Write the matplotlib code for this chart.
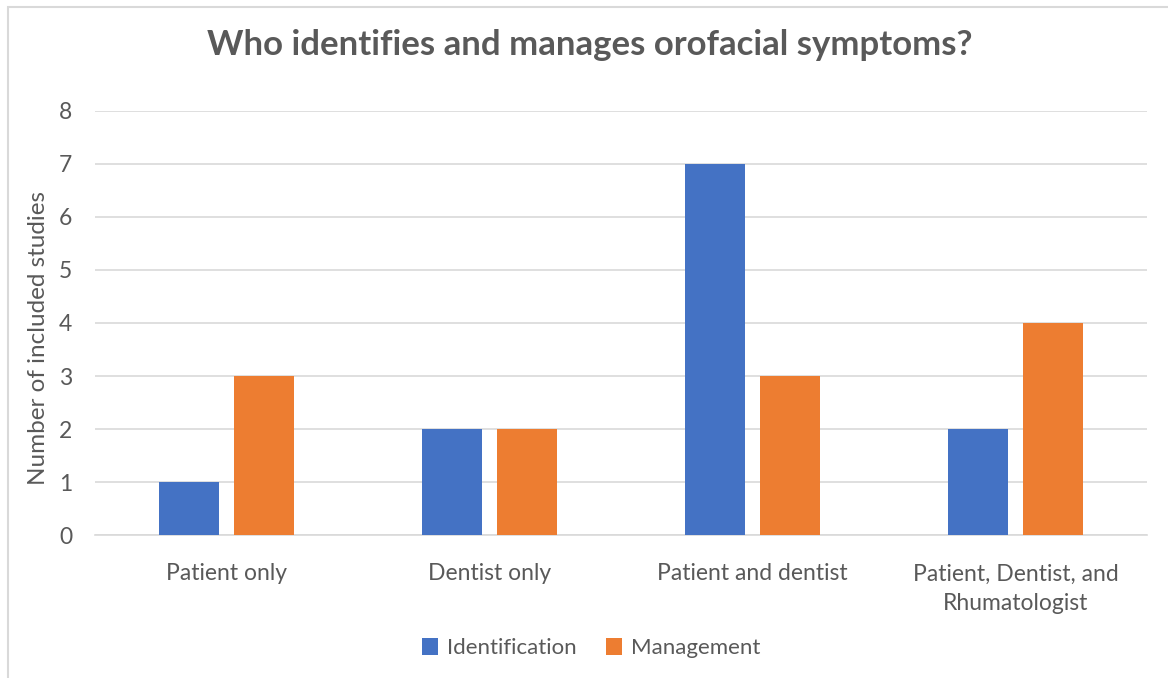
import numpy as np
import matplotlib
matplotlib.use("Agg")
import matplotlib.pyplot as plt
from matplotlib.patches import Rectangle

categories = ["Patient only", "Dentist only", "Patient and dentist",
              "Patient, Dentist, and\nRhumatologist"]
identification = [1, 2, 7, 2]
management = [3, 2, 3, 4]

plt.rcParams['font.family'] = ['Lato', 'DejaVu Sans']
grey = "#595959"

fig = plt.figure(figsize=(11.68, 6.78), dpi=100)
ax = fig.add_axes([0.0813, 0.2109, 0.9007, 0.6254])

x = np.arange(len(categories))
w = 0.228
off = 0.1426
ax.bar(x - off, identification, w, color="#4472C4", label="Identification", zorder=3)
ax.bar(x + off, management, w, color="#ED7D31", label="Management", zorder=3)

ax.set_xlim(-0.5, len(categories) - 0.5)
ax.set_ylim(0, 8)
ax.set_yticks(range(0, 9))
ax.yaxis.grid(True, color="#d9d9d9", linewidth=1.2, zorder=0)
ax.set_axisbelow(True)
for s in ["top", "right", "left"]:
    ax.spines[s].set_visible(False)
ax.spines["bottom"].set_color("#d9d9d9")
ax.spines["bottom"].set_linewidth(1.2)
ax.tick_params(axis="both", length=0, labelsize=16.5, labelcolor=grey)
ax.tick_params(axis="y", pad=16.5)
ax.tick_params(axis="x", pad=20.5)
ax.set_xticks(x)
ax.set_xticklabels(categories, linespacing=1.5)
ax.set_ylabel("Number of included studies", fontsize=17.5, color=grey)
ax.yaxis.set_label_coords(-0.044, 0.465)

fig.suptitle("Who identifies and manages orofacial symptoms?", x=0.505, y=0.957,
             fontsize=25, fontweight="bold", color=grey)

leg = fig.legend(loc="center", bbox_to_anchor=(0.506, 0.044), ncol=2, frameon=False,
                 fontsize=16, handlelength=0.75, handleheight=0.75, columnspacing=1.3,
                 handletextpad=0.4)
for t in leg.get_texts():
    t.set_color(grey)

fig.patches.append(Rectangle((7.5 / 1168, -0.1), 1.2, 1.1 - 6.5 / 678,
                             transform=fig.transFigure, fill=False,
                             edgecolor="#d9d9d9", linewidth=1.5))

fig.savefig("out.png", dpi=100)
